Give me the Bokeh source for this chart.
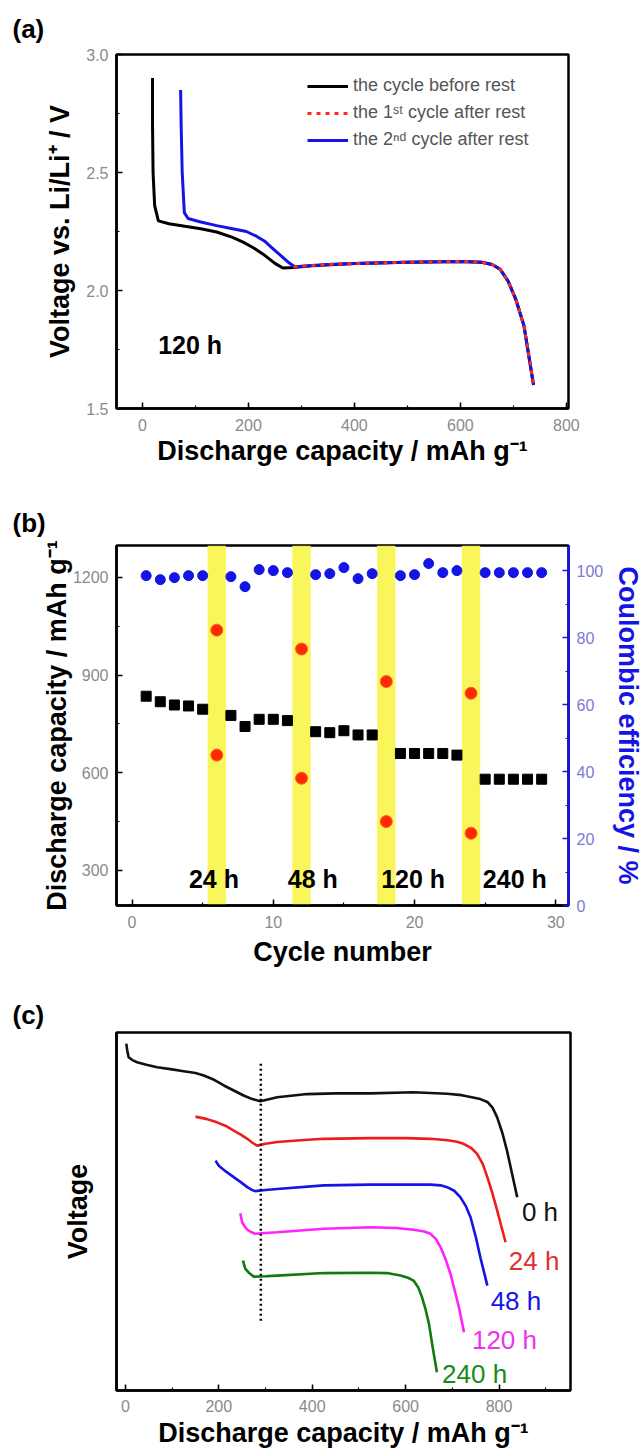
from bokeh.plotting import figure
from bokeh.models import (Range1d, LinearAxis, SingleIntervalTicker, FixedTicker,
                          Legend, LegendItem, Title, BoxAnnotation, PrintfTickFormatter)
from bokeh.layouts import column
from bokeh.embed import file_html
from bokeh.resources import INLINE
from bokeh.core.properties import value

FONT = "Liberation Sans"

# ---------------- (a) data ----------------
cap_before = [19, 19, 20, 23, 30, 50, 80, 110, 140, 170, 190, 210, 230, 250, 265, 285,
              320, 400, 500, 600, 640, 660, 675, 690, 705, 720, 738]
volt_before = [2.90, 2.70, 2.50, 2.36, 2.295, 2.283, 2.272, 2.262, 2.248, 2.225, 2.205,
               2.18, 2.15, 2.115, 2.095, 2.097, 2.105, 2.114, 2.12, 2.123, 2.12, 2.11,
               2.09, 2.04, 1.96, 1.85, 1.60]
cap_second = [72, 73, 75, 79, 86, 110, 140, 170, 196, 215, 230, 245, 260, 275, 288, 300,
              350, 400, 500, 600, 640, 660, 675, 690, 705, 720, 738]
volt_second = [2.85, 2.70, 2.50, 2.33, 2.305, 2.29, 2.275, 2.262, 2.25, 2.23, 2.21, 2.18,
               2.15, 2.12, 2.10, 2.103, 2.11, 2.114, 2.12, 2.123, 2.12, 2.11, 2.09, 2.04,
               1.96, 1.85, 1.60]
cap_first = [285, 300, 350, 400, 500, 600, 640, 660, 675, 690, 705, 720, 738]
volt_first = [2.10, 2.103, 2.11, 2.114, 2.12, 2.123, 2.12, 2.11, 2.09, 2.04, 1.96, 1.85, 1.60]
legend_labels = ["the cycle before rest", "the 1\u02e2\u1d57 cycle after rest",
                 "the 2\u207f\u1d48 cycle after rest"]

# ---------------- (b) data ----------------
cycles = [1, 2, 3, 4, 5, 7, 8, 9, 10, 11, 13, 14, 15, 16, 17, 19, 20, 21, 22, 23,
          25, 26, 27, 28, 29]
capacity = [835, 818, 808, 805, 795, 776, 742, 764, 764, 760, 726, 723, 729, 716, 716,
            659, 659, 659, 659, 654, 580, 580, 580, 580, 580]
coulombic = [98.5, 97.3, 97.9, 98.5, 98.5, 98.2, 95.2, 100.3, 100.0, 99.4, 98.8, 99.1,
             100.9, 97.6, 99.1, 98.5, 98.8, 102.1, 99.4, 100.0, 99.4, 99.4, 99.4, 99.4, 99.4]
rest_cycles = [6, 12, 18, 24]
rest_high = [1038, 980, 880, 844]
rest_low = [654, 583, 450, 414]
rest_labels = ["24 h", "48 h", "120 h", "240 h"]

# ---------------- (c) data ----------------
c0_x = [2, 4, 7, 15, 25, 45, 68, 100, 125, 150, 168, 190, 211, 232, 253, 272, 289, 305,
        325, 360, 389, 450, 525, 617, 689, 720, 739, 760, 775, 786, 796, 807, 817, 828, 839]
c0_y = [96.9, 95.0, 93.1, 92.3, 91.7, 91.0, 90.3, 89.7, 89.2, 88.7, 88.0, 86.8, 85.2, 83.8,
        82.4, 81.4, 80.8, 81.3, 81.9, 82.4, 82.8, 83.0, 83.0, 83.3, 82.9, 82.5, 82.0, 81.4,
        80.6, 79.0, 76.3, 72.0, 67.0, 60.5, 54.0]
c24_x = [150, 175, 196, 215, 232, 248, 261, 272, 282, 300, 325, 375, 425, 525, 600, 653,
         690, 710, 724, 740, 753, 765, 775, 786, 796, 805, 814]
c24_y = [76.5, 75.8, 74.9, 73.9, 72.6, 71.4, 70.3, 69.2, 68.4, 68.9, 69.4, 69.9, 70.3,
         70.5, 70.5, 70.3, 69.9, 69.5, 68.9, 67.8, 66.1, 63.3, 59.6, 55.0, 50.3, 45.8, 41.4]
c48_x = [193, 200, 215, 232, 247, 261, 270, 278, 300, 325, 425, 525, 600, 653, 675, 689,
         704, 717, 729, 739, 750, 760, 768, 775]
c48_y = [64.2, 62.8, 61.2, 59.6, 58.2, 56.8, 56.1, 55.7, 56.0, 56.3, 57.3, 57.5, 57.5,
         57.5, 57.3, 56.8, 55.8, 54.0, 51.5, 48.4, 43.0, 37.2, 33.0, 29.3]
c120_x = [246, 248, 250, 255, 261, 270, 278, 300, 325, 425, 525, 580, 617, 640, 653, 665,
          675, 686, 696, 705, 714, 720, 725]
c120_y = [49.5, 48.3, 47.0, 45.9, 44.9, 44.2, 43.8, 44.0, 44.2, 45.2, 45.6, 45.4, 44.9,
          44.4, 43.8, 42.3, 40.0, 36.5, 32.6, 28.0, 23.3, 19.5, 16.3]
c240_x = [252, 254, 257, 265, 275, 300, 325, 425, 525, 560, 589, 605, 617, 627, 635, 643,
          650, 658, 667]
c240_y = [36.3, 35.2, 34.0, 32.8, 31.8, 31.9, 32.1, 32.8, 32.9, 32.8, 32.1, 31.5, 30.7,
          28.8, 26.1, 22.5, 18.6, 12.0, 5.1]
c_names = ["0 h", "24 h", "48 h", "120 h", "240 h"]
marker_capacity = 290

# ---------------- styling helpers ----------------
TICK_COLOR = "#8a8a8a"


def style_axis(ax, color="black", label_size="16px"):
    ax.axis_line_color = color
    ax.axis_line_width = 2.5
    ax.major_tick_line_color = color
    ax.minor_tick_line_color = color
    ax.major_tick_line_width = 1.5
    ax.minor_tick_line_width = 1.2
    ax.major_tick_in = 6
    ax.major_tick_out = 0
    ax.minor_tick_in = 3
    ax.minor_tick_out = 0
    ax.major_label_text_font = FONT
    ax.major_label_text_font_size = label_size
    ax.major_label_text_color = TICK_COLOR
    ax.major_label_standoff = 8
    ax.axis_label_text_font = FONT
    ax.axis_label_text_font_size = "27px"
    ax.axis_label_text_font_style = "bold"
    ax.axis_label_text_color = color


def base_fig(fw, fh, xr, yr, top, bottom, right=76):
    p = figure(frame_width=fw, frame_height=fh, x_range=xr, y_range=yr,
               output_backend="svg", toolbar_location=None,
               min_border_left=116, min_border_right=right,
               min_border_top=top, min_border_bottom=bottom)
    p.grid.visible = False
    p.outline_line_color = "black"
    p.outline_line_width = 2.5
    p.outline_line_alpha = 1.0
    p.background_fill_color = "white"
    p.border_fill_color = "white"
    return p


def panel_tag(p, text, standoff):
    p.add_layout(Title(text=text, align="left", offset=-104, standoff=standoff,
                       text_font=FONT, text_font_size="26px",
                       text_font_style="bold", text_color="black"), "above")


# ================= (a) =================
pa = base_fig(452, 354, Range1d(-49, 804), Range1d(1.5, 3.0), top=54, bottom=89)
pa.xaxis.ticker = SingleIntervalTicker(interval=200, num_minor_ticks=2)
pa.yaxis.ticker = SingleIntervalTicker(interval=0.5, num_minor_ticks=2)
pa.yaxis.formatter = PrintfTickFormatter(format="%.1f")
pa.xaxis.axis_label = "Discharge capacity / mAh g\u207b\u00b9"
pa.yaxis.axis_label = "Voltage vs. Li/Li\u207a / V"
style_axis(pa.xaxis[0])
style_axis(pa.yaxis[0])
pa.xaxis.major_label_standoff = 10
pa.xaxis.axis_label_standoff = 2
pa.yaxis.axis_label_standoff = 8

r_black = pa.line(cap_before, volt_before, line_color="black", line_width=3)
r_blue = pa.line(cap_second, volt_second, line_color="#1414e6", line_width=3)
r_red = pa.line(cap_first, volt_first, line_color="#ff2a1a", line_width=3,
                line_dash="4 5")
pa.text(x=[90], y=[1.767], text=["120 h"], text_font=value(FONT),
        text_font_size="25px", text_font_style="bold", text_align="center",
        text_baseline="middle", text_color="black")

leg = Legend(items=[LegendItem(label=legend_labels[0], renderers=[r_black]),
                    LegendItem(label=legend_labels[1], renderers=[r_red]),
                    LegendItem(label=legend_labels[2], renderers=[r_blue])],
             location=(191, 258), orientation="vertical",
             glyph_width=41, glyph_height=20, label_height=20, spacing=6,
             padding=0, margin=0, label_standoff=5,
             label_text_font=FONT, label_text_font_size="18px",
             label_text_color="#555555",
             background_fill_alpha=0, border_line_alpha=0)
pa.add_layout(leg)
panel_tag(pa, "(a)", 22)

# ================= (b) =================
pb = base_fig(452, 360, Range1d(-1.1, 30.9), Range1d(192, 1298), top=48, bottom=85)
pb.extra_y_ranges = {"ce": Range1d(0, 107.5)}
pb.xaxis.ticker = SingleIntervalTicker(interval=10, num_minor_ticks=2)
pb.yaxis.ticker = SingleIntervalTicker(interval=300, num_minor_ticks=2)
pb.xaxis.axis_label = "Cycle number"
pb.yaxis.axis_label = "Discharge capacity / mAh g\u207b\u00b9"
style_axis(pb.xaxis[0])
style_axis(pb.yaxis[0])
pb.xaxis.major_label_standoff = 10
pb.xaxis.axis_label_standoff = 6
pb.yaxis.axis_label_standoff = -2

ax_r = LinearAxis(y_range_name="ce", axis_label="Coulombic efficiency / %",
                  ticker=SingleIntervalTicker(interval=20, num_minor_ticks=2))
style_axis(ax_r, color="#1414e6")
ax_r.major_label_text_color = "#7a7ad8"
ax_r.axis_label_standoff = 7
pb.add_layout(ax_r, "right")

for c in rest_cycles:
    pb.add_layout(BoxAnnotation(left=c - 0.65, right=c + 0.65, fill_color="#f8f552",
                                fill_alpha=0.95, line_alpha=0, level="underlay"))

pb.scatter(cycles, capacity, marker="square", size=10, fill_color="black",
           line_color="black")
pb.scatter(rest_cycles, rest_high, marker="circle", size=12, fill_color="#ff2a00",
           line_color="#ff5a30")
pb.scatter(rest_cycles, rest_low, marker="circle", size=12, fill_color="#ff2a00",
           line_color="#ff5a30")
pb.scatter(cycles, coulombic, y_range_name="ce", marker="circle", size=10,
           fill_color="#1414e6", line_color="#1414e6")
pb.text(x=[5.8, 12.8, 19.9, 27.1], y=[272] * 4, text=rest_labels,
        text_font=value(FONT), text_font_size="25px", text_font_style="bold",
        text_align="center", text_baseline="middle", text_color="black")
panel_tag(pb, "(b)", 16)

# ================= (c) =================
pc = base_fig(454, 358, Range1d(-19, 953), Range1d(0, 100), top=42, bottom=63, right=74)
pc.xaxis.ticker = SingleIntervalTicker(interval=200, num_minor_ticks=2)
pc.yaxis.ticker = FixedTicker(ticks=[])
pc.xaxis.axis_label = "Discharge capacity / mAh g\u207b\u00b9"
pc.yaxis.axis_label = "Voltage"
style_axis(pc.xaxis[0])
style_axis(pc.yaxis[0])
pc.xaxis.major_label_standoff = 9
pc.xaxis.axis_label_standoff = 3
pc.yaxis.axis_label_standoff = 24

c_colors = ["#111111", "#ee1c1c", "#1414e6", "#ff22ff", "#107a10"]
c_text_colors = ["#111111", "#e03030", "#1414e6", "#ee33ee", "#1a8a1a"]
series_x = [c0_x, c24_x, c48_x, c120_x, c240_x]
series_y = [c0_y, c24_y, c48_y, c120_y, c240_y]
for xs, ys, col in zip(series_x, series_y, c_colors):
    pc.line(xs, ys, line_color=col, line_width=2.6)
pc.line([marker_capacity, marker_capacity], [19.5, 91.5], line_color="black",
        line_width=2.5, line_dash="2 3")
pc.text(x=[849, 821, 782, 742, 678], y=[49.8, 36.3, 25.1, 14.0, 4.7], text=c_names,
        text_font=value(FONT), text_font_size="26px", text_align="left",
        text_baseline="middle", text_color=c_text_colors)
panel_tag(pc, "(c)", 6)

layout = column(pa, pb, pc, spacing=0)
open("out.html", "w").write(file_html(layout, INLINE))
